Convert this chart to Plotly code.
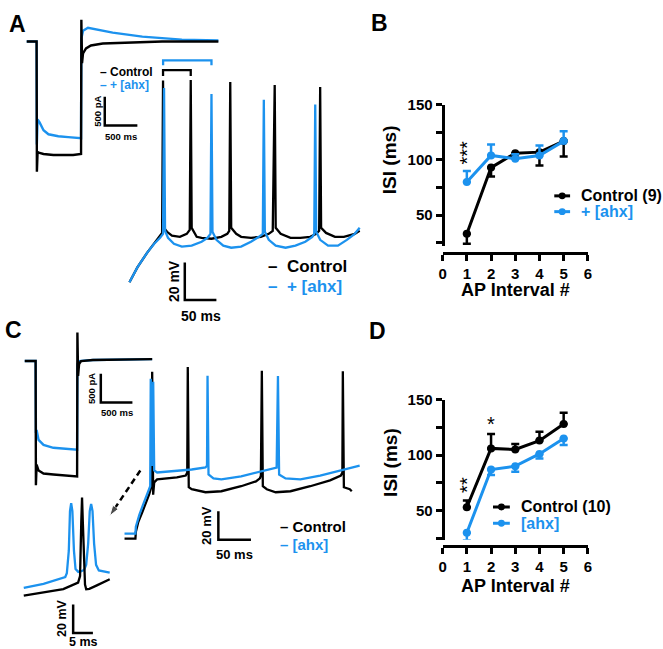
import plotly.graph_objects as go

W, H = 663, 649
BLACK = "#000000"
BLUE = "#1C92EE"
FONT = "Liberation Sans"

# ---------------- Panel B / D summary data (ISI, ms) ----------------
ap_interval = [1, 2, 3, 4, 5]
b_ctrl_isi = [33, 93, 106, 107, 117]
b_ctrl_sem = [9, 8, 4, 12, 14]
b_ahx_isi = [80, 104, 101, 104, 117]
b_ahx_sem = [10, 10, 4, 9, 9]
d_ctrl_isi = [53, 106, 105, 113, 128]
d_ctrl_sem = [6, 13, 5, 8, 10]
d_ahx_isi = [30, 87, 90, 101, 115]
d_ahx_sem = [7, 5, 5, 4, 6]
x_ticks = [0, 1, 2, 3, 4, 5, 6]
y_ticks = [25, 50, 75, 100, 125, 150]
y_ticklabels = ["", "50", "", "100", "", "150"]

# ---------------- Panel A: voltage-clamp current (ms, pA) ----------------
a_cur_ctrl_ms = [0, 151.5, 156, 166.7, 197, 257.6, 409, 712.1, 833.3, 837.9, 848.5, 863.6, 909, 984.8, 1166.7, 1621, 2075.8, 2939.4]
a_cur_ctrl_pa = [0, 0, -2276, -1931, -1948, -1966, -1983, -1983, -1966, 379, -379, -207, -121, -69, -34, -17, 0, 0]
a_cur_ahx_ms = [0, 151.5, 155, 166.7, 197, 257.6, 333.3, 484.8, 636.4, 833.3, 837.9, 863.6, 939.4, 1015, 1318, 1772.7, 2378.8, 2939.4]
a_cur_ahx_pa = [0, 0, -1800, -1362, -1414, -1552, -1621, -1655, -1672, -1690, 52, 190, 241, 224, 155, 86, 34, 17]

# ---------------- Panel A: current-clamp spikes (ms, mV) ----------------
a_ctrl_ms = [0, 12.5, 28.1, 39.1, 48.4, 51.6, 53.1, 54.7, 59.4, 67.2, 79.7, 90.6, 95.3, 96.9, 98.4, 106.3, 114.1, 129.7,
             145.3, 154.7, 157.8, 159.4, 160.9, 168.8, 176.6, 192.2, 207.8, 220.3, 226.6, 229.7, 231.3, 239.1, 254.7,
             270.3, 285.9, 295.3, 300, 301.6, 303.1, 310.9, 325, 339.1, 356.3, 364.1]
a_ctrl_mv = [-83.7, -75.8, -67.9, -63.2, -58.9, -57.4, 24.0, -54.7, -56.8, -58.9, -59.5, -57.9, -55.8, 24.2, -54.7, -59.5,
             -60, -60.5, -59.5, -57.9, -56.3, 23.2, -54.7, -57.9, -59.5, -60, -59.5, -57.9, -56.3, 21.6, -54.7, -57.9,
             -60, -60, -59.5, -57.9, -56.3, 20.5, -54.7, -57.4, -59.5, -59.5, -57.9, -56.3]
a_ahx_ms = [0, 12.5, 28.1, 39.1, 48.4, 53.1, 54.7, 56.3, 60.9, 70.3, 82.8, 98.4, 114.1, 123.4, 128.1, 129.7, 131.3, 137.5,
            148.4, 160.9, 176.6, 192.2, 204.7, 210.9, 212.5, 214.1, 220.3, 231.3, 246.9, 262.5, 278.1, 289.1, 292.2,
            293.8, 295.3, 301.6, 314.1, 329.7, 343.8, 356.3, 364.1]
a_ahx_mv = [-83.7, -75.8, -67.9, -63.2, -60, -57.9, 20.0, -56.3, -60, -63.2, -64.7, -64.2, -62.1, -60, -57.9, 16.8, -56.8,
            -61.1, -64.2, -65.3, -64.7, -62.1, -59.5, -57.9, 13.7, -56.8, -61.1, -64.2, -65.3, -64.2, -62.1, -59.5,
            -57.9, 11.1, -56.8, -61.1, -64.2, -64.2, -61.1, -57.9, -54.7]
a_ctrl_spike_ms = [53.1, 96.9, 159.4, 229.7, 301.6]
a_ahx_spike_ms = [54.7, 129.7, 212.5, 293.8]

# ---------------- Panel C: voltage-clamp current (ms, pA) ----------------
c_cur_ctrl_ms = [0, 171.9, 176.6, 187.5, 218.8, 296.9, 453.1, 609.4, 828.1, 832.8, 843.8, 859.4, 890.6, 1078, 2015.6]
c_cur_ctrl_pa = [0, 0, -2172, -1810, -1914, -1966, -1983, -2000, -2017, 500, -259, -52, 0, 17, 34]
c_cur_ahx_ms = [0, 171.9, 176.6, 187.5, 218.8, 296.9, 453.1, 609.4, 828.1, 832.8, 859.4, 1078, 2015.6]
c_cur_ahx_pa = [0, 0, -1259, -1207, -1379, -1466, -1517, -1534, -1552, -52, 0, 17, 34]

# ---------------- Panel C: current-clamp spikes (ms, mV) ----------------
c_ctrl_ms = [0, 16.7, 17.4, 21.2, 27.3, 33.3, 37.9, 40.9, 42.4, 43.9, 45.5, 50, 65.2, 80.3, 93.9, 96.2, 97, 98.5, 103,
             110.6, 124.2, 148.5, 178.8, 201.5, 207.6, 209.1, 210.6, 212.1, 218.2, 231.8, 254.5, 284.8, 315.2, 331.8,
             334.1, 334.8, 336.4, 345.5, 348.5]
c_ctrl_mv = [-100.7, -100.7, -95.9, -89, -82.1, -75.2, -69.7, -64.8, 15.9, -70, -61.4, -59.3, -58.6, -57.9, -56.6, -54.5,
             19.3, -64.8, -66.2, -66.9, -68.3, -67.6, -64.1, -60.7, -58.6, -56.6, 16.6, -64.1, -66.2, -68.3, -67.6,
             -64.1, -60, -56.6, -54.5, 16.3, -64.8, -66.2, -67.6]
c_ahx_ms = [0, 16.7, 17.4, 22.7, 28.8, 34.8, 39.4, 40.2, 41.5, 42.4, 44.0, 45.5, 50, 72.7, 103, 124.2, 126.5, 127.3,
            128.8, 136.4, 148.5, 178.8, 207.6, 233.3, 235.3, 237.1, 246.97, 269.7, 300, 330.3, 360.6]
c_ahx_mv = [-97.2, -97.2, -92.4, -84.1, -76.6, -69.7, -64.1, 11, -45, -50, 9, -53.1, -54.5, -53.8, -52.4, -51, -49.7,
            13.1, -55.9, -58.6, -59.3, -57.2, -53.8, -51, 12.9, -55.9, -58.6, -59.3, -56.6, -53.1, -49.7]

# ---------------- Panel C inset: first spike expanded (ms, mV) ----------------
c_zoom_ahx_ms = [0, 5, 10.5, 10.9, 11.4, 11.7, 12.0, 12.3, 12.7, 13.1, 13.8, 14.6, 15.3, 15.8, 16.3, 16.7, 17.05, 17.4,
                 17.8, 18.3, 19.0, 20.5, 21.75]
c_zoom_ahx_mv = [-66.3, -63.5, -58.6, -56, -40, -12, -6.5, -12, -40, -53, -55, -54.5, -53.5, -50, -35, -12, -7, -12,
                 -35, -50, -54, -55, -55.5]
c_zoom_ctrl_ms = [0, 5, 10, 13.75, 14.25, 14.55, 14.75, 14.95, 15.2, 15.5, 15.8, 16.6, 18.5, 21.75]
c_zoom_ctrl_mv = [-71.8, -69.5, -67.2, -62.6, -58, -20, -2.5, -20, -50, -64, -67.2, -67, -64.5, -60.2]

# scale bar sizes
bar_pa, bar_cur_ms = 500, 500
bar_mv, bar_spk_ms = 20, 50
bar_zoom_mv, bar_zoom_ms = 20, 5

# ---------------- layout helpers ----------------
fig = go.Figure()
layout = dict(width=W, height=H, margin=dict(l=0, r=0, t=0, b=0, pad=0),
              paper_bgcolor="white", plot_bgcolor="rgba(0,0,0,0)",
              font=dict(family=FONT, color=BLACK), showlegend=False)

def px(x):
    return x / W

def py(y):
    return 1 - y / H

# inset axes: pixel origin (ox, oy) <-> data (x0, y0), scale px per unit
insets = {
    3: dict(ox=23, oy=33, x0=0, y0=0, sx=0.066, sy=0.058, box=(10, 230, 0, 180)),      # A current
    4: dict(ox=127, oy=232, x0=0, y0=-60, sx=0.64, sy=1.9, box=(110, 365, 40, 300)),   # A spikes
    5: dict(ox=21, oy=357, x0=0, y0=0, sx=0.064, sy=0.058, box=(10, 160, 320, 495)),   # C current
    6: dict(ox=122, oy=478, x0=0, y0=-60, sx=0.66, sy=1.45, box=(100, 365, 350, 545)), # C spikes
    7: dict(ox=20, oy=578, x0=0, y0=-60, sx=4.0, sy=1.435, box=(10, 115, 490, 640)),   # C zoom
}
for n, s in insets.items():
    bx0, bx1, by0, by1 = s["box"]
    layout[f"xaxis{n}"] = dict(domain=[px(bx0), px(bx1)], anchor=f"y{n}", visible=False,
                               range=[s["x0"] + (bx0 - s["ox"]) / s["sx"], s["x0"] + (bx1 - s["ox"]) / s["sx"]])
    layout[f"yaxis{n}"] = dict(domain=[py(by1), py(by0)], anchor=f"x{n}", visible=False,
                               range=[s["y0"] - (by1 - s["oy"]) / s["sy"], s["y0"] + (s["oy"] - by0) / s["sy"]])

def line_trace(x, y, color, n, width=2.3):
    fig.add_trace(go.Scatter(x=x, y=y, mode="lines", line=dict(color=color, width=width),
                             xaxis=f"x{n}", yaxis=f"y{n}", showlegend=False, hoverinfo="skip"))

annotations = []
shapes = []

def note(x, y, text, size, color=BLACK, weight="bold", xref="paper", yref="paper", angle=0,
         xanchor="center", xshift=0, yshift=0):
    annotations.append(dict(x=x, y=y, xref=xref, yref=yref, text=text, showarrow=False, textangle=angle,
                            xanchor=xanchor, yanchor="middle", xshift=xshift, yshift=yshift,
                            font=dict(family=FONT, size=size, color=color, weight=weight)))

def scale_bar(n, bx, by, dx, dy, xlabel, ylabel, xshift, yshift, fsize):
    line_trace([bx, bx, bx + dx], [by + dy, by, by], BLACK, n, width=2.5)
    note(bx, by + dy / 2, ylabel, fsize, xref=f"x{n}", yref=f"y{n}", angle=-90, xshift=xshift)
    note(bx + dx / 2, by, xlabel, fsize, xref=f"x{n}", yref=f"y{n}", yshift=yshift)

# ---- Panel A traces ----
line_trace(a_cur_ahx_ms, a_cur_ahx_pa, BLUE, 3, 2.4)
line_trace(a_cur_ctrl_ms, a_cur_ctrl_pa, BLACK, 3, 2.4)
scale_bar(3, 1197, -1466, bar_cur_ms, bar_pa, "500 ms", "500 pA", -8, -11, 9.5)

line_trace(a_ctrl_ms, a_ctrl_mv, BLACK, 4)
line_trace(a_ahx_ms, a_ahx_mv, BLUE, 4)
line_trace([a_ctrl_spike_ms[0]] * 2 + [a_ctrl_spike_ms[1]] * 2, [26.3, 29.5, 29.5, 26.3], BLACK, 4, 2.3)
line_trace([a_ahx_spike_ms[0] - 1.5] * 2 + [a_ahx_spike_ms[1]] * 2, [32.1, 34.7, 34.7, 32.1], BLUE, 4, 2.3)
scale_bar(4, 87.5, -93.2, bar_spk_ms, bar_mv, "50 ms", "20 mV", -11, -16, 14)

# ---- Panel C traces ----
line_trace(c_cur_ahx_ms, c_cur_ahx_pa, BLUE, 5, 2.4)
line_trace(c_cur_ctrl_ms, c_cur_ctrl_pa, BLACK, 5, 2.4)
scale_bar(5, 1203, -724, bar_cur_ms, bar_pa, "500 ms", "500 pA", -10, -10, 9.5)

line_trace(c_ctrl_ms, c_ctrl_mv, BLACK, 6)
line_trace(c_ahx_ms, c_ahx_mv, BLUE, 6)
scale_bar(6, 143.9, -101.6, bar_spk_ms, bar_mv, "50 ms", "20 mV", -12, -15, 13)
# dashed arrow pointing to the expanded spike
fig.add_trace(go.Scatter(x=[24.2, -22.7], y=[-53.1, -84.8], mode="lines+markers", xaxis="x6", yaxis="y6",
                         line=dict(color=BLACK, width=2.5, dash="6px,4px"),
                         marker=dict(symbol="arrow", size=[0, 11], angleref="previous", color=BLACK),
                         showlegend=False, hoverinfo="skip", cliponaxis=False))

line_trace(c_zoom_ahx_ms, c_zoom_ahx_mv, BLUE, 7)
line_trace(c_zoom_ctrl_ms, c_zoom_ctrl_mv, BLACK, 7)
scale_bar(7, 12.5, -98.1, bar_zoom_ms, bar_zoom_mv, "5 ms", "20 mV", -11, -9, 12.5)

# ---- Panels B and D ----
def stat_axes(ax_id, top, bottom, ymin, xline):
    common = dict(showline=True, linewidth=3, linecolor=BLACK, ticks="outside", ticklen=6, tickwidth=2.5,
                  tickcolor=BLACK, showgrid=False, zeroline=False,
                  tickfont=dict(family=FONT, size=15, color=BLACK, weight="bold"))
    sfx = "" if ax_id == 1 else str(ax_id)
    layout[f"xaxis{sfx}"] = dict(common, domain=[px(444), px(591)], range=[0, 6], anchor="free",
                                 position=py(xline), tickvals=x_ticks)
    layout[f"yaxis{sfx}"] = dict(common, domain=[py(bottom), py(top)], range=[ymin, 150], anchor="free",
                                 position=px(444), tickvals=y_ticks, ticktext=y_ticklabels)

stat_axes(1, 97, 240, 22.3, 247)
stat_axes(2, 396, 538.3, 23.7, 544.3)

def isi_trace(y, sem, color, name, ax, up):
    zeros = [0] * len(sem)
    fig.add_trace(go.Scatter(
        x=ap_interval, y=y, mode="lines+markers", name=name, showlegend=False,
        xaxis="x" + ax, yaxis="y" + ax, cliponaxis=False,
        line=dict(color=color, width=3), marker=dict(color=color, size=8),
        error_y=dict(type="data", symmetric=False, array=sem if up else zeros,
                     arrayminus=zeros if up else sem, color=color, thickness=2.5, width=4)))

isi_trace(b_ctrl_isi, b_ctrl_sem, BLACK, "Control (9)", "", False)
isi_trace(b_ahx_isi, b_ahx_sem, BLUE, "+ [ahx]", "", True)
isi_trace(d_ctrl_isi, d_ctrl_sem, BLACK, "Control (10)", "2", True)
isi_trace(d_ahx_isi, d_ahx_sem, BLUE, "[ahx]", "2", False)

# legends for B and D (key line + dot + label)
def stat_key(x0, x1, y, label, color):
    shapes.append(dict(type="line", xref="paper", yref="paper", x0=px(x0), x1=px(x1), y0=py(y), y1=py(y),
                       line=dict(color=color, width=3)))
    cx = (x0 + x1) / 2
    shapes.append(dict(type="circle", xref="paper", yref="paper", x0=px(cx - 3.5), x1=px(cx + 3.5),
                       y0=py(y + 3.5), y1=py(y - 3.5), fillcolor=color, line=dict(color=color, width=0)))
    note(px(x1 + 9), py(y), label, 16, color=color, xanchor="left")

stat_key(557, 573, 189.5, "Control (9)", BLACK)
stat_key(557, 573, 205.5, "+ [ahx]", BLUE)
stat_key(495, 512, 505, "Control (10)", BLACK)
stat_key(495, 512, 521.5, "[ahx]", BLUE)

# significance stars
note(1, 106.5, "***", 20, weight="normal", xref="x", yref="y", angle=-90)
note(1, 73, "**", 20, weight="normal", xref="x2", yref="y2", angle=-90)
note(2, 128, "*", 20, weight="normal", xref="x2", yref="y2")

# axis titles
for ty, xt_y in [(153, 285), (460, 585)]:
    note(px(391), py(ty), "ISI (ms)", 19, angle=-90)
    note(px(518), py(xt_y), "AP Interval #", 18)

# panel letters
for letter, lx, ly in [("A", 14, 15), ("B", 380, 14), ("C", 10, 326), ("D", 378, 327)]:
    note(px(lx), py(ly), letter, 23)

# trace legends (text keys)
NB = "\u00a0"
def key(x, y, text, color, size, gap):
    note(px(x), py(y), "\u2013" + NB * gap + text, size, color=color, xanchor="left")

key(95, 64, "Control", BLACK, 12, 1)
key(95, 77, "+ [ahx]", BLUE, 12, 1)
key(265, 261, "Control", BLACK, 17, 2)
key(265, 281, "+ [ahx]", BLUE, 17, 2)
key(277, 525, "Control", BLACK, 15, 1)
key(277, 543, "[ahx]", BLUE, 15, 1)

layout["annotations"] = annotations
layout["shapes"] = shapes
fig.update_layout(**layout)
post = ("document.documentElement.style.margin='0';document.body.style.margin='0';"
        "document.body.style.overflow='hidden';"
        "var gd=document.getElementById('{plot_id}');gd.style.position='fixed';"
        "gd.style.left='0px';gd.style.top='0px';")
fig.write_html("out.html", config={"displayModeBar": False}, post_script=post)
